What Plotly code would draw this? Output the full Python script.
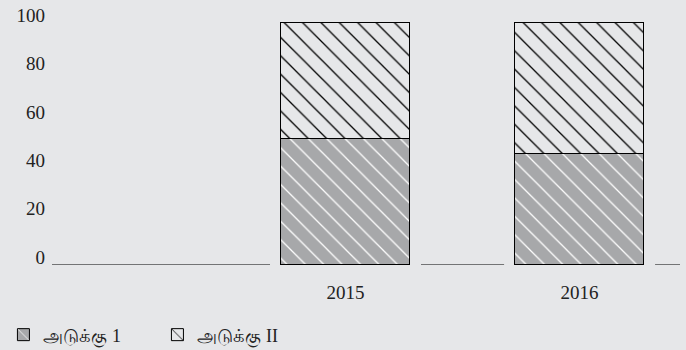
import plotly.graph_objects as go

# ---- data ----
years = ["2015", "2016"]
stack1 = [52, 46]      # அடுக்கு 1 (bottom, grey)
stack2 = [48, 54]      # அடுக்கு II (top, hatched)
series_names = ["அடுக்கு 1", "அடுக்கு II"]
y_ticks = [0, 20, 40, 60, 80, 100]

BG = "#e6e7e9"
GREY = "#a7a8aa"
BAR_W = 0.551
GAP = 0.047
X_RANGE = [-1.254, 1.429]

xpos = list(range(len(years)))

fig = go.Figure()
fig.add_trace(go.Bar(
    x=xpos, y=stack1, name=series_names[0], width=BAR_W,
    marker=dict(color=GREY, line=dict(color="black", width=1),
                pattern=dict(shape="\\", fgcolor="white", bgcolor=GREY,
                             size=13, solidity=0.1, fillmode="replace")),
))
fig.add_trace(go.Bar(
    x=xpos, y=stack2, name=series_names[1], width=BAR_W,
    marker=dict(color=BG, line=dict(color="black", width=1),
                pattern=dict(shape="\\", fgcolor="black", bgcolor=BG,
                             size=13, solidity=0.1, fillmode="replace")),
))

# broken baseline: segments between bars
edges = [X_RANGE[0]]
for p in xpos:
    edges += [p - BAR_W / 2 - GAP, p + BAR_W / 2 + GAP]
edges.append(X_RANGE[1])
for a, b in zip(edges[0::2], edges[1::2]):
    fig.add_shape(type="line", xref="x", yref="y", x0=a, x1=b, y0=0, y1=0,
                  line=dict(color="black", width=1))

fig.update_layout(
    barmode="stack",
    width=686, height=350,
    margin=dict(l=52, r=6, t=11, b=85),
    paper_bgcolor=BG, plot_bgcolor=BG,
    font=dict(family="Liberation Serif, serif", size=19, color="#222"),
    showlegend=True,
    legend=dict(orientation="h", xref="container", yref="container",
                x=0.005, y=0.043, xanchor="left", yanchor="middle",
                entrywidth=109, entrywidthmode="pixels",
                traceorder="normal",
                font=dict(size=18, family="Liberation Serif, serif"),
                bgcolor="rgba(0,0,0,0)"),
    xaxis=dict(range=X_RANGE, tickvals=xpos, ticktext=years,
               showgrid=False, zeroline=False, showline=False, ticks="",
               ticklabelstandoff=14, automargin=False),
    yaxis=dict(range=[0, 105], tickvals=y_ticks, showgrid=False,
               zeroline=False, showline=False, ticks="",
               ticklabelstandoff=6, ticklabelshift=-8, automargin=False,
               ticklabeloverflow="allow"),
    bargap=0,
)

fig.write_html(
    "out.html",
    config={"displayModeBar": False},
    post_script="document.body.style.margin='0';document.body.style.background='%s';" % BG,
)
